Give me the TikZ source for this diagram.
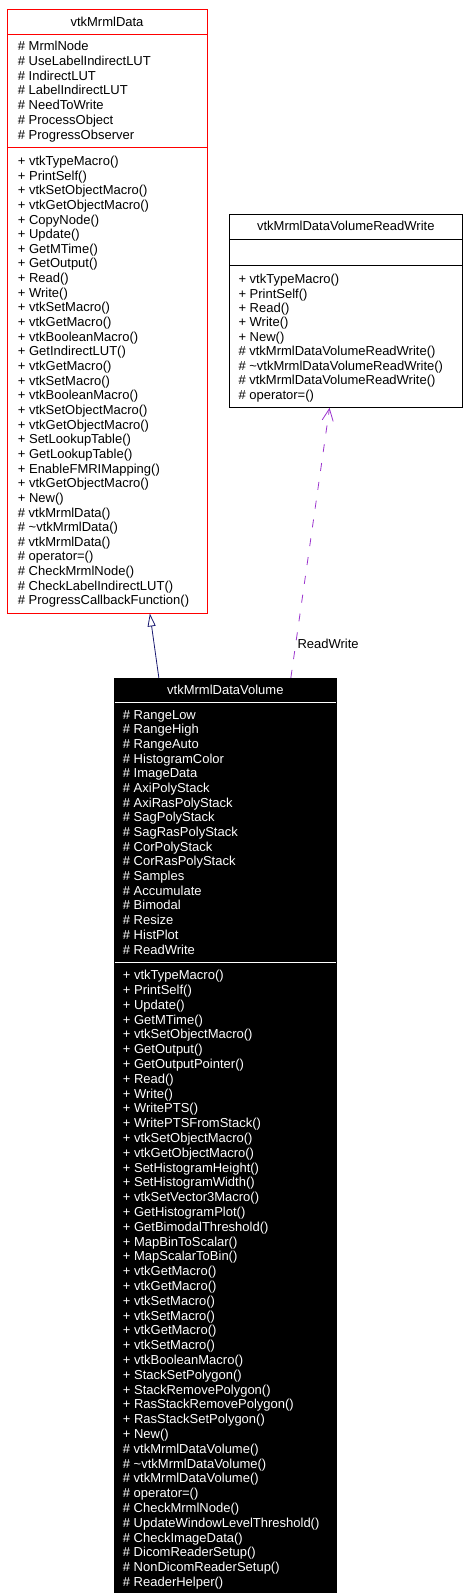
\documentclass[tikz,border=0pt]{standalone}
\usepackage{fontspec}
\setmainfont{Liberation Sans}
\usetikzlibrary{arrows.meta,calc}
\definecolor{edgeblue}{HTML}{191970}
\definecolor{edgepurple}{HTML}{9A32CD}
\tikzset{
  box/.style={draw, rectangle, inner sep=0pt, line width=0.9pt},
  sep/.style={line width=0.9pt},
  txt/.style={font=\fontsize{13}{15}\selectfont, inner sep=0pt, anchor=base west},
  ttl/.style={font=\fontsize{13}{15}\selectfont, inner sep=0pt, anchor=base},
  inh/.style={draw=edgeblue, line width=0.8pt, -{Triangle[open, length=13pt, width=8pt]}},
  usage/.style={draw=edgepurple, line width=0.8pt, dash pattern=on 8pt off 11pt, -{Straight Barb[length=12pt, width=11pt]}}
}
\begin{document}
\begin{tikzpicture}[x=1pt,y=-1pt]
\useasboundingbox (0,0) rectangle (468,1596);
% ---------- vtkMrmlData ----------
\node[box, draw=red, minimum width=200pt, minimum height=603.5pt] (A) at (107,311.25) {};
\draw[sep, red] (7,34) -- (207,34);
\draw[sep, red] (7,147) -- (207,147);
\node[ttl] (A-t) at (107,26.4) {vtkMrmlData};
\foreach \t [count=\i from 0] in {\# MrmlNode, \# UseLabelIndirectLUT, \# IndirectLUT, \# LabelIndirectLUT, \# NeedToWrite, \# ProcessObject, \# ProgressObserver}
  \node[txt] (A-a\i) at (17.7, 50.4+\i*14.83) {\t};
\foreach \t [count=\i from 0] in {+ vtkTypeMacro(), + PrintSelf(), + vtkSetObjectMacro(), + vtkGetObjectMacro(), + CopyNode(), + Update(), + GetMTime(), + GetOutput(), + Read(), + Write(), + vtkSetMacro(), + vtkGetMacro(), + vtkBooleanMacro(), + GetIndirectLUT(), + vtkGetMacro(), + vtkSetMacro(), + vtkBooleanMacro(), + vtkSetObjectMacro(), + vtkGetObjectMacro(), + SetLookupTable(), + GetLookupTable(), + EnableFMRIMapping(), + vtkGetObjectMacro(), + New(), \# vtkMrmlData(), \# \textasciitilde vtkMrmlData(), \# vtkMrmlData(), \# operator=(), \# CheckMrmlNode(), \# CheckLabelIndirectLUT(), \# ProgressCallbackFunction()}
  \node[txt] (A-m\i) at (17.7, 165.4+\i*14.65) {\t};
% ---------- vtkMrmlDataVolumeReadWrite ----------
\node[box, minimum width=233pt, minimum height=193.3pt] (B) at (345.8,310.65) {};
\draw[sep] (229.3,239.3) -- (462.3,239.3);
\draw[sep] (229.3,265.7) -- (462.3,265.7);
\node[ttl] (B-t) at (345.8,230.7) {vtkMrmlDataVolumeReadWrite};
\foreach \t [count=\i from 0] in {+ vtkTypeMacro(), + PrintSelf(), + Read(), + Write(), + New(), \# vtkMrmlDataVolumeReadWrite(), \# \textasciitilde vtkMrmlDataVolumeReadWrite(), \# vtkMrmlDataVolumeReadWrite(), \# operator=()}
  \node[txt] (B-m\i) at (238.3, 283.7+\i*14.42) {\t};
% ---------- vtkMrmlDataVolume ----------
\node[box, fill=black, minimum width=222.7pt, minimum height=913.7pt] (C) at (225.35,1135.15) {};
\draw[sep, white] (114.5,702.3) -- (336.2,702.3);
\draw[sep, white] (114.5,962.3) -- (336.2,962.3);
\node[ttl, text=white] (C-t) at (225.35,694) {vtkMrmlDataVolume};
\foreach \t [count=\i from 0] in {\# RangeLow, \# RangeHigh, \# RangeAuto, \# HistogramColor, \# ImageData, \# AxiPolyStack, \# AxiRasPolyStack, \# SagPolyStack, \# SagRasPolyStack, \# CorPolyStack, \# CorRasPolyStack, \# Samples, \# Accumulate, \# Bimodal, \# Resize, \# HistPlot, \# ReadWrite}
  \node[txt, text=white] (C-a\i) at (122.7, 719+\i*14.69) {\t};
\foreach \t [count=\i from 0] in {+ vtkTypeMacro(), + PrintSelf(), + Update(), + GetMTime(), + vtkSetObjectMacro(), + GetOutput(), + GetOutputPointer(), + Read(), + Write(), + WritePTS(), + WritePTSFromStack(), + vtkSetObjectMacro(), + vtkGetObjectMacro(), + SetHistogramHeight(), + SetHistogramWidth(), + vtkSetVector3Macro(), + GetHistogramPlot(), + GetBimodalThreshold(), + MapBinToScalar(), + MapScalarToBin(), + vtkGetMacro(), + vtkGetMacro(), + vtkSetMacro(), + vtkSetMacro(), + vtkGetMacro(), + vtkSetMacro(), + vtkBooleanMacro(), + StackSetPolygon(), + StackRemovePolygon(), + RasStackRemovePolygon(), + RasStackSetPolygon(), + New(), \# vtkMrmlDataVolume(), \# \textasciitilde vtkMrmlDataVolume(), \# vtkMrmlDataVolume(), \# operator=(), \# CheckMrmlNode(), \# UpdateWindowLevelThreshold(), \# CheckImageData(), \# DicomReaderSetup(), \# NonDicomReaderSetup(), \# ReaderHelper()}
  \node[txt, text=white] (C-m\i) at (122.7, 979.7+\i*14.8) {\t};
% ---------- connectors ----------
\draw[inh] ($(C.north west)+(45.3,0)$) -- ($(A.south west)+(143.3,0)$);
\draw[usage] ($(C.north west)+(177.3,0)$) -- ($(B.south west)+(100.7,0)$);
\node[txt] (lbl) at (297.3,648.7) {ReadWrite};
\end{tikzpicture}
\end{document}
